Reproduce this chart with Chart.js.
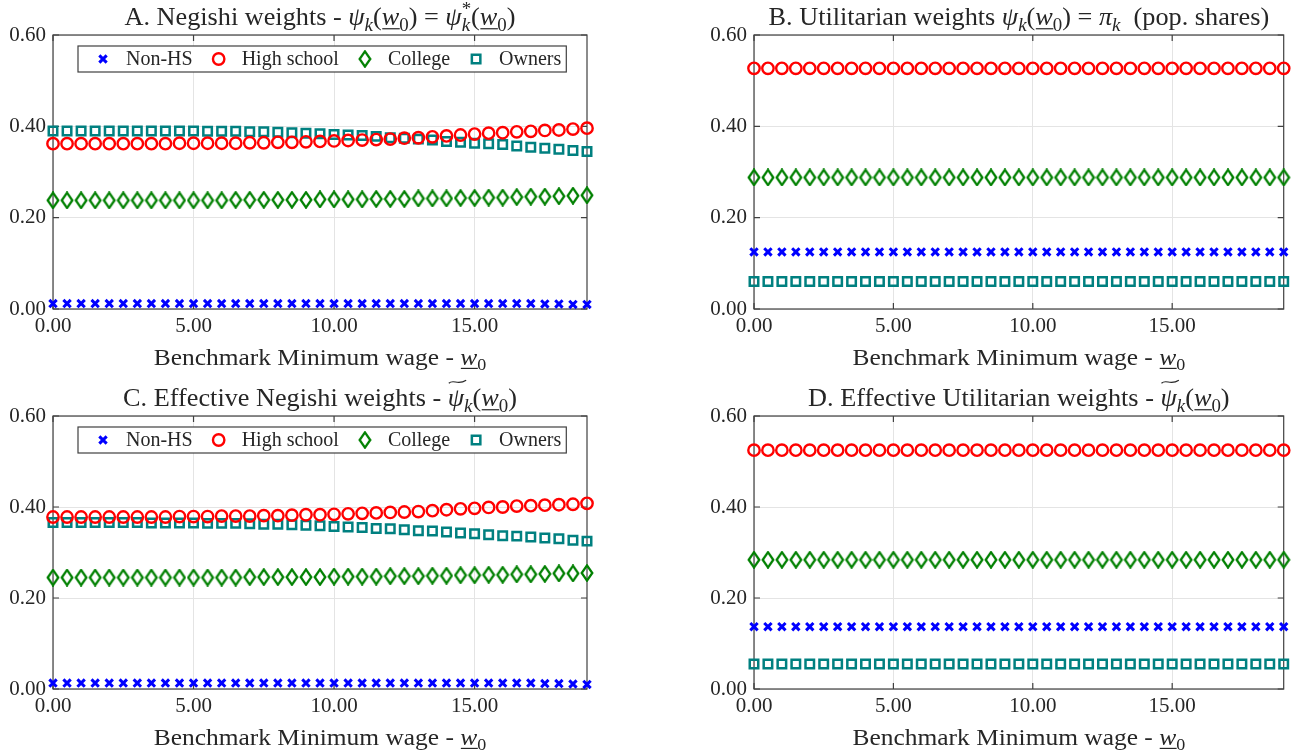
<!DOCTYPE html>
<html>
<head>
<meta charset="utf-8">
<script src="https://cdn.jsdelivr.net/npm/chart.js"></script>
<style>
  html, body { margin: 0; padding: 0; background: #fff; }
  #wrap { position: relative; width: 1294px; height: 752px; }
  canvas { position: absolute; }
</style>
</head>
<body>
<div id="wrap">
  <canvas id="chartA" width="647" height="376" style="left:0;top:0"></canvas>
  <canvas id="chartB" width="647" height="376" style="left:647px;top:0"></canvas>
  <canvas id="chartC" width="647" height="376" style="left:0;top:376px"></canvas>
  <canvas id="chartD" width="647" height="376" style="left:647px;top:376px"></canvas>
</div>
<script>
// benchmark minimum wage grid
var wage = [0, 0.5, 1, 1.5, 2, 2.5, 3, 3.5, 4, 4.5, 5, 5.5, 6, 6.5, 7, 7.5, 8, 8.5, 9, 9.5,
            10, 10.5, 11, 11.5, 12, 12.5, 13, 13.5, 14, 14.5, 15, 15.5, 16, 16.5, 17, 17.5, 18, 18.5, 19];

var xTickValues = [0, 5, 10, 15];
var yTickValues = [0, 0.2, 0.4, 0.6];
var groups = ['Non-HS', 'High school', 'College', 'Owners'];

// A. Negishi weights
var negNonHS = [0.012, 0.012, 0.012, 0.012, 0.012, 0.012, 0.012, 0.012, 0.012, 0.012,
                0.012, 0.012, 0.012, 0.012, 0.012, 0.012, 0.012, 0.012, 0.012, 0.012,
                0.012, 0.012, 0.012, 0.012, 0.012, 0.012, 0.012, 0.012, 0.012, 0.012,
                0.012, 0.012, 0.012, 0.012, 0.012, 0.011, 0.011, 0.010, 0.010];
var negHS = [0.362, 0.362, 0.362, 0.362, 0.362, 0.362, 0.362, 0.362, 0.362, 0.363,
             0.363, 0.363, 0.363, 0.363, 0.364, 0.364, 0.365, 0.365, 0.366, 0.367,
             0.368, 0.369, 0.370, 0.371, 0.372, 0.374, 0.375, 0.377, 0.379, 0.381,
             0.383, 0.385, 0.386, 0.388, 0.389, 0.391, 0.392, 0.394, 0.396];
var negCollege = [0.238, 0.238, 0.238, 0.238, 0.238, 0.238, 0.238, 0.238, 0.238, 0.238,
                  0.238, 0.238, 0.238, 0.239, 0.239, 0.239, 0.239, 0.239, 0.239, 0.240,
                  0.240, 0.240, 0.240, 0.241, 0.241, 0.241, 0.242, 0.242, 0.242, 0.243,
                  0.243, 0.244, 0.244, 0.245, 0.246, 0.246, 0.247, 0.248, 0.249];
var negOwners = [0.390, 0.390, 0.390, 0.390, 0.390, 0.390, 0.390, 0.390, 0.390, 0.390,
                 0.390, 0.389, 0.389, 0.389, 0.388, 0.388, 0.387, 0.386, 0.385, 0.384,
                 0.382, 0.381, 0.380, 0.378, 0.375, 0.374, 0.372, 0.370, 0.367, 0.365,
                 0.363, 0.362, 0.360, 0.357, 0.354, 0.352, 0.350, 0.347, 0.345];

// B. Utilitarian weights (population shares)
var utilNonHS = [0.125, 0.125, 0.125, 0.125, 0.125, 0.125, 0.125, 0.125, 0.125, 0.125,
                 0.125, 0.125, 0.125, 0.125, 0.125, 0.125, 0.125, 0.125, 0.125, 0.125,
                 0.125, 0.125, 0.125, 0.125, 0.125, 0.125, 0.125, 0.125, 0.125, 0.125,
                 0.125, 0.125, 0.125, 0.125, 0.125, 0.125, 0.125, 0.125, 0.125];
var utilHS = [0.527, 0.527, 0.527, 0.527, 0.527, 0.527, 0.527, 0.527, 0.527, 0.527,
              0.527, 0.527, 0.527, 0.527, 0.527, 0.527, 0.527, 0.527, 0.527, 0.527,
              0.527, 0.527, 0.527, 0.527, 0.527, 0.527, 0.527, 0.527, 0.527, 0.527,
              0.527, 0.527, 0.527, 0.527, 0.527, 0.527, 0.527, 0.527, 0.527];
var utilCollege = [0.288, 0.288, 0.288, 0.288, 0.288, 0.288, 0.288, 0.288, 0.288, 0.288,
                   0.288, 0.288, 0.288, 0.288, 0.288, 0.288, 0.288, 0.288, 0.288, 0.288,
                   0.288, 0.288, 0.288, 0.288, 0.288, 0.288, 0.288, 0.288, 0.288, 0.288,
                   0.288, 0.288, 0.288, 0.288, 0.288, 0.288, 0.288, 0.288, 0.288];
var utilOwners = [0.060, 0.060, 0.060, 0.060, 0.060, 0.060, 0.060, 0.060, 0.060, 0.060,
                  0.060, 0.060, 0.060, 0.060, 0.060, 0.060, 0.060, 0.060, 0.060, 0.060,
                  0.060, 0.060, 0.060, 0.060, 0.060, 0.060, 0.060, 0.060, 0.060, 0.060,
                  0.060, 0.060, 0.060, 0.060, 0.060, 0.060, 0.060, 0.060, 0.060];

// C. Effective Negishi weights
var effNegNonHS = [0.013, 0.013, 0.013, 0.013, 0.013, 0.013, 0.013, 0.013, 0.013, 0.013,
                   0.013, 0.013, 0.013, 0.013, 0.013, 0.013, 0.013, 0.013, 0.013, 0.013,
                   0.013, 0.013, 0.013, 0.013, 0.013, 0.013, 0.013, 0.013, 0.013, 0.013,
                   0.013, 0.013, 0.013, 0.013, 0.013, 0.012, 0.012, 0.011, 0.010];
var effNegHS = [0.378, 0.378, 0.378, 0.378, 0.378, 0.378, 0.378, 0.378, 0.378, 0.379,
                0.379, 0.379, 0.380, 0.380, 0.380, 0.381, 0.381, 0.382, 0.383, 0.383,
                0.384, 0.385, 0.386, 0.387, 0.388, 0.389, 0.390, 0.392, 0.394, 0.396,
                0.397, 0.399, 0.400, 0.402, 0.403, 0.404, 0.405, 0.406, 0.408];
var effNegCollege = [0.245, 0.245, 0.245, 0.245, 0.245, 0.245, 0.245, 0.245, 0.245, 0.245,
                     0.245, 0.245, 0.245, 0.245, 0.246, 0.246, 0.246, 0.246, 0.246, 0.246,
                     0.247, 0.247, 0.247, 0.247, 0.248, 0.248, 0.248, 0.249, 0.249, 0.250,
                     0.250, 0.251, 0.251, 0.252, 0.252, 0.253, 0.254, 0.254, 0.255];
var effNegOwners = [0.366, 0.366, 0.366, 0.366, 0.366, 0.366, 0.366, 0.365, 0.365, 0.365,
                    0.365, 0.364, 0.364, 0.364, 0.363, 0.362, 0.362, 0.361, 0.360, 0.359,
                    0.357, 0.356, 0.355, 0.353, 0.352, 0.350, 0.348, 0.347, 0.345, 0.343,
                    0.341, 0.339, 0.337, 0.336, 0.334, 0.332, 0.330, 0.327, 0.325];

// D. Effective Utilitarian weights
var effUtilNonHS = [0.137, 0.137, 0.137, 0.137, 0.137, 0.137, 0.137, 0.137, 0.137, 0.137,
                    0.137, 0.137, 0.137, 0.137, 0.137, 0.137, 0.137, 0.137, 0.137, 0.137,
                    0.137, 0.137, 0.137, 0.137, 0.137, 0.137, 0.137, 0.137, 0.137, 0.137,
                    0.137, 0.137, 0.137, 0.137, 0.137, 0.137, 0.137, 0.137, 0.137];
var effUtilHS = [0.525, 0.525, 0.525, 0.525, 0.525, 0.525, 0.525, 0.525, 0.525, 0.525,
                 0.525, 0.525, 0.525, 0.525, 0.525, 0.525, 0.525, 0.525, 0.525, 0.525,
                 0.525, 0.525, 0.525, 0.525, 0.525, 0.525, 0.525, 0.525, 0.525, 0.525,
                 0.525, 0.525, 0.525, 0.525, 0.525, 0.525, 0.525, 0.525, 0.525];
var effUtilCollege = [0.284, 0.284, 0.284, 0.284, 0.284, 0.284, 0.284, 0.284, 0.284, 0.284,
                      0.284, 0.284, 0.284, 0.284, 0.284, 0.284, 0.284, 0.284, 0.284, 0.284,
                      0.284, 0.284, 0.284, 0.284, 0.284, 0.284, 0.284, 0.284, 0.284, 0.284,
                      0.284, 0.284, 0.284, 0.284, 0.284, 0.284, 0.284, 0.284, 0.284];
var effUtilOwners = [0.055, 0.055, 0.055, 0.055, 0.055, 0.055, 0.055, 0.055, 0.055, 0.055,
                     0.055, 0.055, 0.055, 0.055, 0.055, 0.055, 0.055, 0.055, 0.055, 0.055,
                     0.055, 0.055, 0.055, 0.055, 0.055, 0.055, 0.055, 0.055, 0.055, 0.055,
                     0.055, 0.055, 0.055, 0.055, 0.055, 0.055, 0.055, 0.055, 0.055];

var FONT = '"Liberation Serif", "Times New Roman", serif';
var TEXT = '#262626';
var AXIS = '#404040';
var GRID = '#e4e4e4';
var TICK_FS = 21, LEGEND_FS = 20, XLABEL_FS = 24, TITLE_FS = 25;
var STRETCH = 1.05;   // Computer Modern runs a bit wider than Times

Chart.defaults.font.family = FONT;
Chart.defaults.font.size = TICK_FS;
Chart.defaults.color = TEXT;

// taller-than-wide diamond like the MATLAB marker
var diamond = document.createElement('canvas');
diamond.width = 14; diamond.height = 18;
(function () {
  var c = diamond.getContext('2d');
  c.strokeStyle = '#008000';
  c.lineWidth = 2.3;
  c.beginPath();
  c.moveTo(7, 1.4); c.lineTo(12.3, 9); c.lineTo(7, 16.6); c.lineTo(1.7, 9);
  c.closePath();
  c.stroke();
})();

var markers = [
  { color: '#0000ff', style: 'crossRot', radius: 5.2, width: 3 },
  { color: '#ff0000', style: 'circle', radius: 5.7, width: 2.4 },
  { color: '#008000', style: diamond, radius: 8, width: 2.3 },
  { color: '#008080', style: 'rect', radius: 6, width: 2.5 }
];

// rich-text pieces for the LaTeX-like titles
function rm(t) { return { t: t }; }
function it(t) { return { t: t, it: true }; }
function sb(t, ital) { return { t: t, it: ital, small: true, sub: true }; }
function wbar() { return [{ t: 'w', it: true, ul: true }, sb('0', false)]; }

function drawRich(ctx, segs, cx, cy, size, sx) {
  var parts = segs.map(function (s) {
    var sz = s.small ? Math.round(size * 0.7) : size;
    var font = (s.it ? 'italic ' : '') + sz + 'px ' + FONT;
    ctx.font = font;
    var w = ctx.measureText(s.t).width;
    if (s.t2) {
      ctx.font = 'italic ' + sz + 'px ' + FONT;
      w = Math.max(w, ctx.measureText(s.t2).width);
    }
    return { s: s, font: font, sz: sz, w: w };
  });
  var total = parts.reduce(function (a, p) { return a + p.w; }, 0);
  var base = cy + size * 0.33;
  ctx.save();
  ctx.translate(cx - total * sx / 2, 0);
  ctx.scale(sx, 1);
  ctx.fillStyle = TEXT;
  ctx.strokeStyle = TEXT;
  ctx.textAlign = 'left';
  ctx.textBaseline = 'alphabetic';
  var x = 0;
  parts.forEach(function (p) {
    var s = p.s;
    ctx.font = p.font;
    if (s.t2) {
      ctx.fillText(s.t, x, base - size * 0.4);
      ctx.font = 'italic ' + p.sz + 'px ' + FONT;
      ctx.fillText(s.t2, x, base + size * 0.22);
    } else {
      var y = base + (s.sub ? size * 0.22 : 0);
      ctx.fillText(s.t, x, y);
    }
    if (s.ul) {
      ctx.lineWidth = 1.2;
      ctx.beginPath();
      ctx.moveTo(x + 0.5, base + 3.5);
      ctx.lineTo(x + p.w + 0.5, base + 3.5);
      ctx.stroke();
    }
    if (s.tilde) {
      var y0 = base - size * 0.98;
      ctx.lineWidth = 1.1;
      ctx.beginPath();
      ctx.moveTo(x + 1, y0 + 1.5);
      ctx.bezierCurveTo(x + p.w * 0.35, y0 - 3, x + p.w * 0.6, y0 + 4, x + p.w + 2, y0 - 1.5);
      ctx.stroke();
    }
    x += p.w;
  });
  ctx.restore();
}

var panelPlugin = {
  id: 'panel',
  beforeDatasetsDraw: function (chart, args, opts) {
    var ctx = chart.ctx, a = chart.chartArea;
    var xs = chart.scales.x, ys = chart.scales.y;
    ctx.save();
    ctx.strokeStyle = AXIS;
    ctx.lineWidth = 1.2;
    ctx.strokeRect(a.left, a.top, a.right - a.left, a.bottom - a.top);
    ctx.beginPath();
    xTickValues.forEach(function (v) {
      var px = xs.getPixelForValue(v);
      ctx.moveTo(px, a.bottom); ctx.lineTo(px, a.bottom - 6);
      ctx.moveTo(px, a.top); ctx.lineTo(px, a.top + 6);
    });
    yTickValues.forEach(function (v) {
      var py = ys.getPixelForValue(v);
      ctx.moveTo(a.left, py); ctx.lineTo(a.left + 6, py);
      ctx.moveTo(a.right, py); ctx.lineTo(a.right - 6, py);
    });
    ctx.stroke();
    ctx.restore();
  },
  afterDraw: function (chart, args, opts) {
    var ctx = chart.ctx, a = chart.chartArea;
    var mid = (a.left + a.right) / 2;
    drawRich(ctx, opts.title, mid, a.top - 18, TITLE_FS, STRETCH);
    drawRich(ctx, [rm('Benchmark Minimum wage - ')].concat(wbar()), mid, a.bottom + 48, XLABEL_FS, 1.06);
    if (!opts.legend) return;
    // legend box inside the axes, top-left
    ctx.save();
    ctx.font = LEGEND_FS + 'px ' + FONT;
    var left = a.left + 25, top = a.top + 11, h = 26;
    var x = left + 25, items = [];
    chart.data.datasets.forEach(function (ds, i) {
      var tw = ctx.measureText(ds.label).width;
      items.push({ mx: x, tx: x + 23, label: ds.label, m: markers[i] });
      x = x + 23 + tw + 26;
    });
    var right = x - 26 + 5;
    ctx.fillStyle = '#fff';
    ctx.fillRect(left, top, right - left, h);
    ctx.strokeStyle = AXIS;
    ctx.lineWidth = 1.2;
    ctx.strokeRect(left, top, right - left, h);
    var cy = top + h / 2;
    items.forEach(function (item) {
      ctx.strokeStyle = item.m.color;
      ctx.fillStyle = 'rgba(0,0,0,0)';
      ctx.lineWidth = item.m.width;
      Chart.helpers.drawPoint(ctx, { pointStyle: item.m.style, radius: item.m.radius, borderWidth: item.m.width, rotation: 0 }, item.mx, cy);
      ctx.fillStyle = TEXT;
      ctx.textAlign = 'left';
      ctx.textBaseline = 'middle';
      ctx.fillText(item.label, item.tx, cy + 1);
    });
    ctx.restore();
  }
};

function makePanel(id, series, pad, xAxisH, title, legend) {
  var datasets = series.map(function (vals, i) {
    var m = markers[i];
    return {
      label: groups[i],
      data: wage.map(function (w, j) { return { x: w, y: vals[j] }; }),
      pointStyle: m.style,
      pointRadius: m.radius,
      pointHoverRadius: m.radius,
      pointBorderColor: m.color,
      pointBackgroundColor: 'rgba(0,0,0,0)',
      pointBorderWidth: m.width,
      showLine: false,
      clip: false
    };
  });
  return new Chart(document.getElementById(id), {
    type: 'scatter',
    data: { datasets: datasets },
    options: {
      responsive: false,
      animation: false,
      events: [],
      layout: { padding: { left: pad[0], right: pad[1], top: pad[2], bottom: 0 } },
      scales: {
        x: {
          type: 'linear', min: 0, max: 19,
          afterBuildTicks: function (s) { s.ticks = xTickValues.map(function (v) { return { value: v }; }); },
          afterFit: function (s) { s.height = xAxisH; },
          ticks: { padding: 5, maxRotation: 0, callback: function (v) { return v.toFixed(2); } },
          grid: { color: GRID, drawTicks: false },
          border: { display: false }
        },
        y: {
          type: 'linear', min: 0, max: 0.6,
          afterBuildTicks: function (s) { s.ticks = yTickValues.map(function (v) { return { value: v }; }); },
          afterFit: function (s) { s.width = 53; },
          ticks: { padding: 7, callback: function (v) { return v.toFixed(2); } },
          grid: { color: GRID, drawTicks: false },
          border: { display: false }
        }
      },
      plugins: {
        legend: { display: false },
        tooltip: { enabled: false },
        panel: { title: title, legend: legend }
      }
    },
    plugins: [panelPlugin]
  });
}

var titleA = [rm('A. Negishi weights - '), it('\u03c8'), sb('k', true), rm('(')].concat(wbar(),
  [rm(') = '), it('\u03c8'), { t: '*', t2: 'k', small: true }, rm('(')], wbar(), [rm(')')]);
var titleB = [rm('B. Utilitarian weights '), it('\u03c8'), sb('k', true), rm('(')].concat(wbar(),
  [rm(') = '), it('\u03c0'), sb('k', true), rm('  (pop. shares)')]);
var titleC = [rm('C. Effective Negishi weights - '), { t: '\u03c8', it: true, tilde: true }, sb('k', true), rm('(')].concat(wbar(), [rm(')')]);
var titleD = [rm('D. Effective Utilitarian weights - '), { t: '\u03c8', it: true, tilde: true }, sb('k', true), rm('(')].concat(wbar(), [rm(')')]);

makePanel('chartA', [negNonHS, negHS, negCollege, negOwners], [0, 60, 35], 67, titleA, true);
makePanel('chartB', [utilNonHS, utilHS, utilCollege, utilOwners], [54, 5, 35], 67, titleB, false);
makePanel('chartC', [effNegNonHS, effNegHS, effNegCollege, effNegOwners], [0, 60, 40], 63, titleC, true);
makePanel('chartD', [effUtilNonHS, effUtilHS, effUtilCollege, effUtilOwners], [54, 5, 40], 63, titleD, false);
</script>
</body>
</html>
